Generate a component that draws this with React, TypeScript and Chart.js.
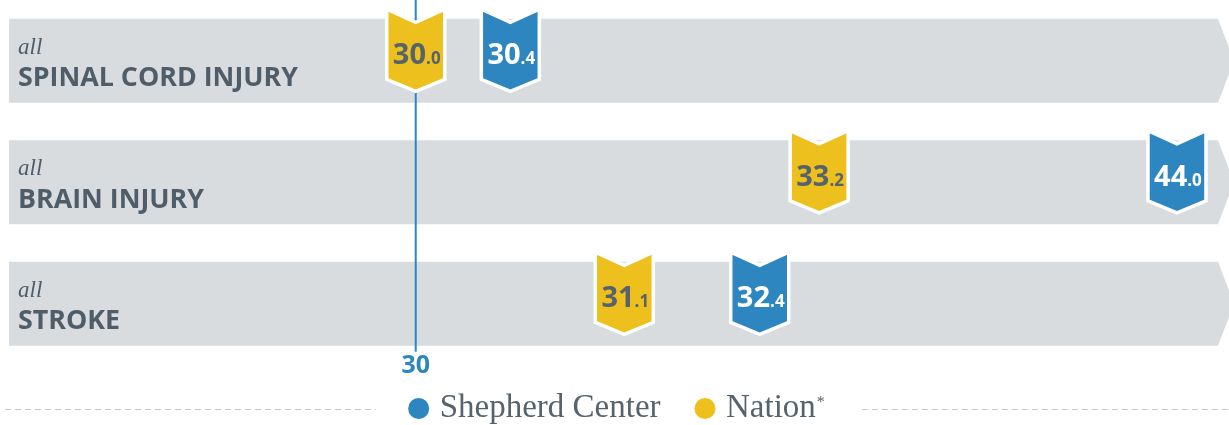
import React, { useEffect, useRef } from 'react';
import { Chart, registerables, LinearScale } from 'chart.js';

Chart.register(...registerables);

// ---------- data ----------
const CATEGORIES = ['SPINAL CORD INJURY', 'BRAIN INJURY', 'STROKE'];
const CATEGORY_PREFIX = ['all', 'all', 'all'];
const SHEPHERD = [30.4, 44.0, 32.4];
const NATION = [30.0, 33.2, 31.1];
const SERIES_NAMES = ['Shepherd Center', 'Nation'];
const SERIES_NOTES = ['', '*'];
const REFERENCE = 30;
const REFERENCE_TICKS = ['30'];
const AXIS_MIN = 26.75;
const AXIS_MAX = 47.05;

// ---------- styles ----------
const BLUE = '#2E86C1';
const YELLOW = '#EDC01E';
const ROW_GRAY = '#D8DCDF';
const TEXT_DARK = '#4F5D69';
const DASH_GRAY = '#C3CBD2';
const SERIF = '"Liberation Serif", serif';
const SANS = '"Open Sans", sans-serif';
const DIGITS = '"Open Sans", sans-serif';

// compressed scale around the reference value (signed log1p)
const tf = (v: number) => {
  const d = v - REFERENCE;
  return Math.sign(d) * Math.log1p(Math.abs(d));
};
const tfInv = (t: number) => REFERENCE + Math.sign(t) * Math.expm1(Math.abs(t));

class CompressedScale extends LinearScale {
  static id = 'compressed';
  getPixelForValue(value: number) {
    const a = tf(this.min);
    const b = tf(this.max);
    return this.getPixelForDecimal((tf(value) - a) / (b - a));
  }
  getValueForPixel(pixel: number) {
    const a = tf(this.min);
    const b = tf(this.max);
    return tfInv(a + this.getDecimalForPixel(pixel) * (b - a));
  }
}
Chart.register(CompressedScale as any);

const ROW_H = 84;

const rowsPlugin = {
  id: 'rows',
  beforeDatasetsDraw(chart: any) {
    const { ctx, chartArea, scales } = chart;
    const y = scales.y;
    const x = scales.x;
    ctx.save();
    CATEGORIES.forEach((cat, i) => {
      const yc = y.getPixelForValue(i);
      const top = yc - ROW_H / 2;
      const bot = yc + ROW_H / 2;
      const left = chartArea.left;
      const right = chartArea.right;
      ctx.fillStyle = ROW_GRAY;
      ctx.beginPath();
      ctx.moveTo(left, top);
      ctx.lineTo(right - 11, top);
      ctx.lineTo(right + 5, yc);
      ctx.lineTo(right - 11, bot);
      ctx.lineTo(left, bot);
      ctx.closePath();
      ctx.fill();

      ctx.fillStyle = TEXT_DARK;
      ctx.textAlign = 'left';
      ctx.textBaseline = 'alphabetic';
      ctx.font = `italic 23px ${SERIF}`;
      ctx.fillText(CATEGORY_PREFIX[i], left + 9, yc - 7);
      ctx.font = `bold 26.8px ${SANS}`;
      ctx.fillText(cat, left + 9, yc + 25.5);
    });

    // reference line + its tick label
    const xr = x.getPixelForValue(REFERENCE);
    const lastBottom = y.getPixelForValue(CATEGORIES.length - 1) + ROW_H / 2;
    ctx.strokeStyle = BLUE;
    ctx.lineWidth = 2;
    ctx.beginPath();
    ctx.moveTo(xr, 0);
    ctx.lineTo(xr, lastBottom + 6);
    ctx.stroke();
    ctx.fillStyle = BLUE;
    ctx.font = `bold 25px ${DIGITS}`;
    ctx.textAlign = 'center';
    ctx.fillText(REFERENCE_TICKS[0], xr, lastBottom + 27);
    ctx.restore();
  },
};

const markersPlugin = {
  id: 'markers',
  afterDatasetsDraw(chart: any) {
    const { ctx } = chart;
    ctx.save();
    chart.data.datasets.forEach((ds: any, di: number) => {
      const meta = chart.getDatasetMeta(di);
      meta.data.forEach((el: any, i: number) => {
        const cx = el.x;
        const yc = el.y;
        const W = 29;
        ctx.beginPath();
        ctx.moveTo(cx - W, yc - 51.5);
        ctx.lineTo(cx, yc - 38.5);
        ctx.lineTo(cx + W, yc - 51.5);
        ctx.lineTo(cx + W, yc + 18.5);
        ctx.lineTo(cx, yc + 30.5);
        ctx.lineTo(cx - W, yc + 18.5);
        ctx.closePath();
        ctx.fillStyle = ds.backgroundColor;
        ctx.fill();
        ctx.lineWidth = 3.5;
        ctx.lineJoin = 'miter';
        ctx.strokeStyle = '#FFFFFF';
        ctx.stroke();

        const v = ds.data[i].x as number;
        const txt = v.toFixed(1);
        const dot = txt.indexOf('.');
        const big = txt.slice(0, dot);
        const small = txt.slice(dot);
        ctx.textBaseline = 'alphabetic';
        ctx.textAlign = 'left';
        ctx.font = `bold 29px ${DIGITS}`;
        const wb = ctx.measureText(big).width;
        ctx.font = `bold 17px ${DIGITS}`;
        const ws = ctx.measureText(small).width;
        const start = cx - (wb + ws) / 2 + 1;
        ctx.fillStyle = ds.textColor;
        ctx.font = `bold 29px ${DIGITS}`;
        ctx.fillText(big, start, yc + 3.5);
        ctx.font = `bold 17px ${DIGITS}`;
        ctx.fillText(small, start + wb, yc + 3.5);
      });
    });
    ctx.restore();
  },
};

const legendPlugin = {
  id: 'customLegend',
  afterDraw(chart: any) {
    const { ctx, width } = chart;
    const datasets = chart.data.datasets;
    const R = 10.5;
    const baseY = 417;
    const cy = 408.5;
    ctx.save();
    ctx.textBaseline = 'alphabetic';
    ctx.textAlign = 'left';
    const items = datasets.map((ds: any, i: number) => {
      ctx.font = `33px ${SERIF}`;
      const wt = ctx.measureText(ds.label).width;
      ctx.font = `16px ${SERIF}`;
      const wn = SERIES_NOTES[i] ? ctx.measureText(SERIES_NOTES[i]).width + 1 : 0;
      return { ds, wt, wn, w: 2 * R + 10.5 + wt + wn };
    });
    const gap = 34;
    const total = items.reduce((s: number, it: any) => s + it.w, 0) + gap * (items.length - 1);
    let x = width / 2 - total / 2 + 2;
    const groupStart = x;
    items.forEach((it: any, i: number) => {
      ctx.fillStyle = it.ds.backgroundColor;
      ctx.beginPath();
      ctx.arc(x + R, cy, R, 0, Math.PI * 2);
      ctx.fill();
      ctx.fillStyle = '#56636E';
      ctx.font = `33px ${SERIF}`;
      const tx = x + 2 * R + 10.5;
      ctx.fillText(it.ds.label, tx, baseY);
      if (SERIES_NOTES[i]) {
        ctx.font = `16px ${SERIF}`;
        ctx.fillText(SERIES_NOTES[i], tx + it.wt + 1, baseY - 10);
      }
      x += it.w + gap;
    });
    const groupEnd = x - gap;
    ctx.strokeStyle = DASH_GRAY;
    ctx.lineWidth = 1;
    ctx.setLineDash([6, 4]);
    ctx.beginPath();
    ctx.moveTo(5, 409.5);
    ctx.lineTo(groupStart - 32, 409.5);
    ctx.moveTo(groupEnd + 37, 409.5);
    ctx.lineTo(width, 409.5);
    ctx.stroke();
    ctx.restore();
  },
};

export default function App() {
  const ref = useRef<HTMLCanvasElement | null>(null);
  useEffect(() => {
    if (!ref.current) return;
    const chart = new Chart(ref.current, {
      type: 'scatter',
      data: {
        datasets: [
          {
            label: SERIES_NAMES[0],
            data: SHEPHERD.map((v, i) => ({ x: v, y: CATEGORIES[i] })),
            backgroundColor: BLUE,
            textColor: '#FFFFFF',
            pointRadius: 0,
          } as any,
          {
            label: SERIES_NAMES[1],
            data: NATION.map((v, i) => ({ x: v, y: CATEGORIES[i] })),
            backgroundColor: YELLOW,
            textColor: '#56626C',
            pointRadius: 0,
          } as any,
        ],
      },
      options: {
        animation: false,
        responsive: true,
        maintainAspectRatio: false,
        layout: { padding: { left: 9, right: 0, top: -1.5, bottom: 60.5 } },
        scales: {
          x: { type: 'compressed' as any, min: AXIS_MIN, max: AXIS_MAX, display: false },
          y: { type: 'category', labels: CATEGORIES, offset: true, display: false },
        },
        plugins: { legend: { display: false }, tooltip: { enabled: false } },
      },
      plugins: [rowsPlugin, markersPlugin, legendPlugin],
    });
    const fonts = (document as any).fonts;
    if (fonts && fonts.load) {
      Promise.all([
        fonts.load(`bold 28px "Open Sans"`),
        fonts.load(`33px "Liberation Serif"`),
        fonts.load(`italic 23px "Liberation Serif"`),
      ]).then(() => chart.update()).catch(() => {});
    }
    return () => chart.destroy();
  }, []);
  return (
    <div style={{ position: 'fixed', left: 0, top: 0, width: 1229, height: 425 }}>
      <canvas ref={ref} />
    </div>
  );
}
